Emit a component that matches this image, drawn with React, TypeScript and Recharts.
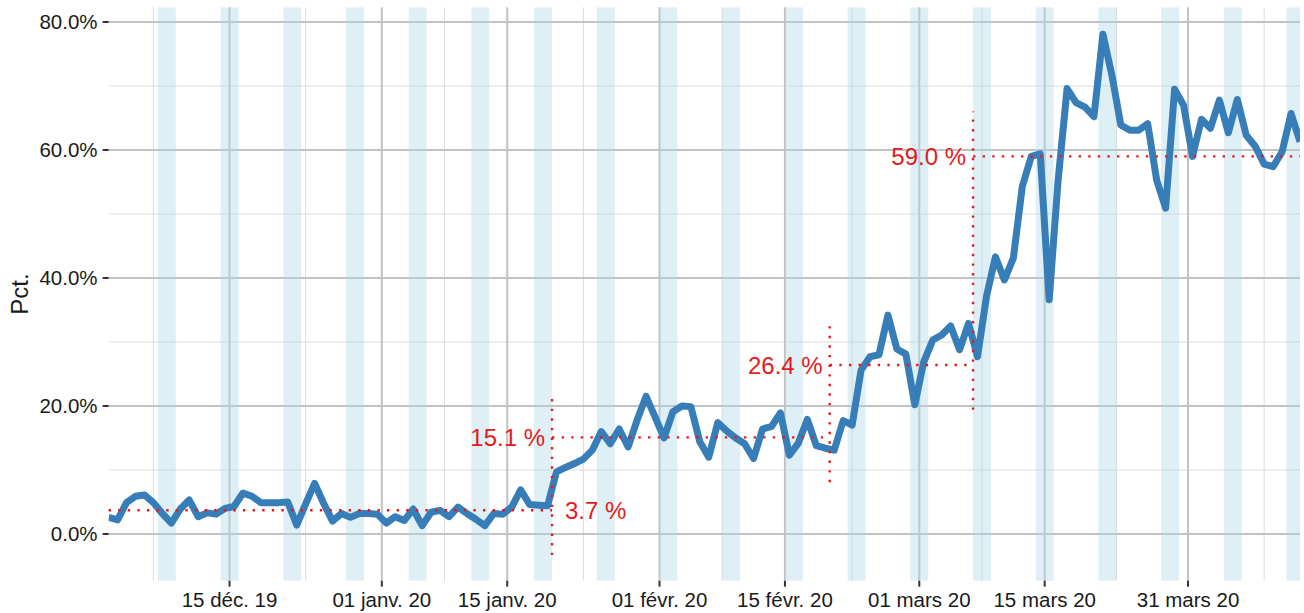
import React from "react";
import {
  ComposedChart,
  Line,
  XAxis,
  YAxis,
  CartesianGrid,
  ReferenceArea,
  ReferenceLine,
  ReferenceDot,
  Label,
} from "recharts";

// day 0 = 01 déc. 2019, one value per day (plotted at noon)
const startDate = new Date(2019, 11, 1);

const pct: number[] = [
  2.6, 2.2, 4.9, 5.9, 6.1, 4.9, 3.2, 1.7, 3.9, 5.3,
  2.7, 3.3, 3.1, 4.0, 4.3, 6.4, 5.9, 4.9, 4.9, 4.9,
  5.0, 1.4, 4.7, 7.9, 4.8, 2.0, 3.2, 2.6, 3.2, 3.2,
  3.1, 1.7, 2.7, 2.1, 3.9, 1.3, 3.4, 3.7, 2.7, 4.2,
  3.2, 2.3, 1.3, 3.2, 3.1, 4.2, 6.9, 4.6, 4.5, 4.4,
  9.7, 10.4, 11.0, 11.7, 13.1, 16.0, 14.1, 16.4, 13.6, 17.8,
  21.5, 18.3, 15.0, 19.1, 20.0, 19.9, 14.4, 12.0, 17.4, 16.1,
  15.0, 14.1, 11.8, 16.4, 16.8, 18.9, 12.3, 14.2, 17.9, 13.8,
  13.4, 13.1, 17.7, 17.0, 25.6, 27.7, 28.0, 34.2, 28.9, 28.1,
  20.2, 26.9, 30.3, 31.1, 32.5, 28.8, 32.9, 27.7, 37.1, 43.3,
  39.7, 43.1, 54.3, 59.0, 59.4, 36.6, 55.3, 69.6, 67.4, 66.7,
  65.2, 78.1, 71.7, 63.9, 63.1, 63.1, 64.1, 55.3, 50.9, 69.5,
  67.0, 59.0, 64.8, 63.4, 67.8, 62.7, 67.9, 62.3, 60.6, 57.8,
  57.4, 59.7, 65.7, 61.3,
];

// periods (index ranges) and their means
const periods = [
  { from: 0, to: 49, mean: 3.7 },
  { from: 50, to: 80, mean: 15.1 },
  { from: 81, to: 96, mean: 26.4 },
  { from: 97, to: 133, mean: 59.0 },
];

const majorTicks = [14, 31, 45, 62, 76, 91, 105, 121];
const majorLabels = [
  "15 déc. 19",
  "01 janv. 20",
  "15 janv. 20",
  "01 févr. 20",
  "15 févr. 20",
  "01 mars 20",
  "15 mars 20",
  "31 mars 20",
];
const minorTicks = [5.5, 22.5, 38, 53.5, 69, 83.5, 98, 113, 129.5];

const yMajor = [0, 20, 40, 60, 80];
const yMinor = [10, 30, 50, 70];

const data = pct.map((v, i) => ({ day: i + 0.5, value: v }));
const xMin = 0.5;
const xMax = pct.length - 0.5;

// weekend bands: saturday -> monday
const weekends: number[] = [];
pct.forEach((_, i) => {
  const d = new Date(startDate);
  d.setDate(d.getDate() + i);
  if (d.getDay() === 6) weekends.push(i);
});

const RED = "#e41a1c";
const BLUE = "#377eb8";
const FONT = "'Liberation Sans', Arial, Helvetica, sans-serif";

export default function App() {
  return (
    <div style={{ position: "fixed", left: 0, top: 0, background: "#fff" }}>
      <ComposedChart
        width={1304}
        height={613}
        data={data}
        margin={{ top: 7.3, right: 4, bottom: 0, left: 0 }}
        style={{ fontFamily: FONT }}
      >
        <CartesianGrid
          stroke="#dcdcdc"
          strokeWidth={1}
          horizontalValues={yMinor}
          verticalValues={minorTicks}
        />
        <CartesianGrid
          stroke="#c2c2c2"
          strokeWidth={2}
          horizontalValues={yMajor}
          verticalValues={majorTicks}
        />
        <XAxis
          type="number"
          dataKey="day"
          domain={[xMin, xMax]}
          ticks={majorTicks}
          interval={0}
          allowDataOverflow
          tickFormatter={(v: number) => majorLabels[majorTicks.indexOf(v)] ?? ""}
          axisLine={false}
          tickLine={{ stroke: "#333", strokeWidth: 2 }}
          tickSize={6}
          tickMargin={6}
          height={32.3}
          tick={{ fontSize: 20.5, fill: "#1a1a1a" }}
        />
        <YAxis
          type="number"
          domain={[-7.3, 82.3]}
          ticks={yMajor}
          interval={0}
          allowDataOverflow
          tickFormatter={(v: number) => `${v.toFixed(1)}%`}
          axisLine={false}
          tickLine={{ stroke: "#333", strokeWidth: 2 }}
          tickSize={6}
          tickMargin={5}
          width={108.6}
          tick={{ fontSize: 20.5, fill: "#1a1a1a" }}
        >
          <Label
            content={(props: any) => {
              const vb = props.viewBox || {};
              const cx = (vb.x ?? 0) + 19;
              const cy = (vb.y ?? 0) + (vb.height ?? 0) / 2;
              return (
                <text
                  x={cx}
                  y={cy}
                  transform={`rotate(-90, ${cx}, ${cy})`}
                  textAnchor="middle"
                  dominantBaseline="central"
                  fontSize={24}
                  fill="#1a1a1a"
                  fontFamily={FONT}
                >
                  Pct.
                </text>
              );
            }}
          />
        </YAxis>

        {weekends.map((s) => (
          <ReferenceArea
            key={"w" + s}
            x1={s}
            x2={Math.min(s + 2, xMax)}
            fill="#add8e6"
            fillOpacity={0.4}
            stroke="none"
            ifOverflow="hidden"
          />
        ))}

        <Line
          type="linear"
          dataKey="value"
          stroke={BLUE}
          strokeWidth={7}
          strokeLinejoin="round"
          dot={false}
          activeDot={false}
          isAnimationActive={false}
        />

        {periods.map((p, i) => (
          <ReferenceLine
            key={"h" + i}
            segment={[
              { x: Math.max(p.from, xMin), y: p.mean },
              { x: Math.min(p.to + 1, xMax), y: p.mean },
            ]}
            stroke={RED}
            strokeWidth={2.4}
            strokeDasharray="2.4 7.2"
            ifOverflow="visible"
          />
        ))}
        {periods.slice(1).map((p, i) => {
          const prev = periods[i];
          return (
            <ReferenceLine
              key={"v" + i}
              segment={[
                { x: p.from, y: Math.min(prev.mean, p.mean) - 7 },
                { x: p.from, y: Math.max(prev.mean, p.mean) + 7 },
              ]}
              stroke={RED}
              strokeWidth={2.4}
              strokeDasharray="2.4 7.2"
              ifOverflow="visible"
            />
          );
        })}

        {periods.map((p, i) => (
          <ReferenceDot
            key={"l" + i}
            x={i === 0 ? periods[1].from : p.from}
            y={p.mean}
            r={0}
            fill="none"
            stroke="none"
            ifOverflow="visible"
            label={{
              value: `${p.mean.toFixed(1)} %`,
              position: i === 0 ? "right" : "left",
              offset: i === 0 ? 13 : 7,
              fill: RED,
              fontSize: 24,
              fontFamily: FONT,
            }}
          />
        ))}
      </ComposedChart>
    </div>
  );
}
